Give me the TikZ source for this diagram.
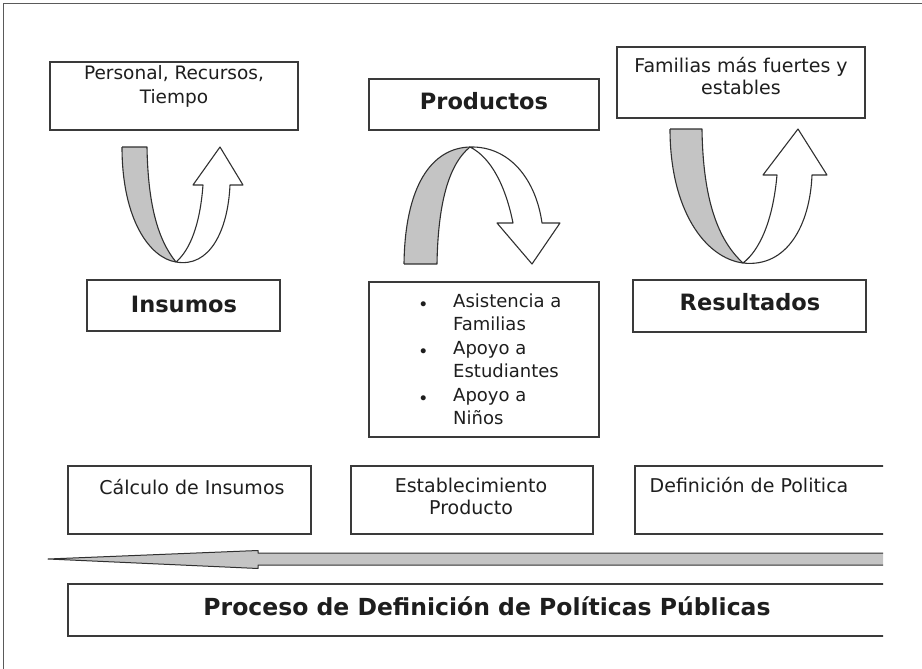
\documentclass[tikz,border=0pt]{standalone}
\usepackage{fontspec}
\setmainfont{DejaVu Sans}
\definecolor{boxc}{HTML}{3A3A3A}
\definecolor{arrc}{HTML}{303030}
\definecolor{grayf}{HTML}{C4C4C4}
\definecolor{framec}{HTML}{5A5A5A}
\definecolor{txtc}{HTML}{1E1E1E}
\tikzset{
  box/.style={draw=boxc, line width=1.3pt, inner sep=0pt, fill=white},
  txt/.style={inner sep=0pt, text=txtc},
  arrline/.style={draw=arrc, line width=1.1pt, line join=round},
  arrfill/.style={fill=grayf},
}
\begin{document}
\begin{tikzpicture}[x=1pt,y=-1pt]
\useasboundingbox (0,0) rectangle (922,669);
\draw[framec, line width=1pt] (3,669) -- (3,4) -- (922,4);

% ---- top boxes
\node[box, minimum width=248pt, minimum height=68pt] (pers) at (174,96) {};
\node[txt, font=\fontsize{18.5}{24}\selectfont, align=center] (perst) at (174,86.1) {Personal, Recursos,\\Tiempo};

\node[box, minimum width=230pt, minimum height=51pt] (prod) at (484,104.5) {};
\node[txt, font=\fontsize{22.5}{27}\selectfont\bfseries, anchor=base] (prodt) at (484,110) {Productos};

\node[box, minimum width=248pt, minimum height=71pt] (fam) at (741,82.5) {};
\node[txt, font=\fontsize{19}{22}\selectfont, align=center] (famt) at (741,76.4) {Familias más fuertes y\\estables};

% ---- middle boxes
\node[box, minimum width=193pt, minimum height=51pt] (ins) at (183.5,305.5) {};
\node[txt, font=\fontsize{22.5}{27}\selectfont\bfseries, anchor=base] (inst) at (184,312) {Insumos};

\node[box, minimum width=230pt, minimum height=155pt] (list) at (484,359.5) {};
\node[txt, anchor=west, font=\fontsize{18}{23.5}\selectfont] (listt) at (419,361.3) {%
\begin{tabular}{@{}l@{}l@{}}
\makebox[34pt][l]{\hspace{1pt}\scalebox{0.75}{$\bullet$}} & Asistencia a\\
 & Familias\\
\makebox[34pt][l]{\hspace{1pt}\scalebox{0.75}{$\bullet$}} & Apoyo a\\
 & Estudiantes\\
\makebox[34pt][l]{\hspace{1pt}\scalebox{0.75}{$\bullet$}} & Apoyo a\\
 & Niños
\end{tabular}};

\node[box, minimum width=233pt, minimum height=52pt] (res) at (749.5,306) {};
\node[txt, font=\fontsize{22.5}{27}\selectfont\bfseries, anchor=base] (rest) at (750,310) {Resultados};

% ---- bottom boxes
\node[box, minimum width=243pt, minimum height=68pt] (calc) at (189.5,500) {};
\node[txt, font=\fontsize{19}{22}\selectfont, anchor=base] (calct) at (192,494) {Cálculo de Insumos};

\node[box, minimum width=242pt, minimum height=68pt] (est) at (472,500) {};
\node[txt, font=\fontsize{19}{22}\selectfont, align=center] (estt) at (471,496.8) {Establecimiento\\Producto};

\begin{scope}
\clip (0,0) rectangle (883,669);
\node[box, minimum width=270pt, minimum height=68pt] (def) at (770,500) {};
\node[box, minimum width=838pt, minimum height=52pt] (bar) at (487,610) {};
\filldraw[fill=grayf, draw=arrc, line width=1pt, line join=round]
  (48,559) -- (258,550.5) -- (258,553) -- (900,553) -- (900,565) -- (258,565) -- (258,568.5) -- cycle;
\end{scope}
\node[txt, font=\fontsize{19}{22}\selectfont, anchor=base] (deft) at (749,492) {Definición de Politica};
\node[txt, font=\fontsize{23.5}{28}\selectfont\bfseries, anchor=base] (bart) at (487,615) {Proceso de Definición de Políticas Públicas};

% ---- U arrow 1 (Insumos)
\fill[arrfill] (122,147) -- (147,147) .. controls (148,205) and (158,240) .. (176,262)
  .. controls (150,258) and (122,220) .. (122,147) -- cycle;
\draw[arrline] (122,147) -- (147,147) .. controls (148,205) and (158,240) .. (176,262);
\draw[arrline] (122,147) .. controls (122,220) and (150,258) .. (176,262)
  .. controls (210,268) and (228,230) .. (230,185) -- (243,185) -- (220,147) -- (193,185) -- (203,185)
  .. controls (200,225) and (190,250) .. (176,262);

% ---- arch arrow 2 (Productos)
\fill[arrfill] (404,264) -- (437,264) .. controls (438,205) and (448,165) .. (470,147)
  .. controls (432,148) and (405,185) .. (404,264) -- cycle;
\draw[arrline] (404,264) -- (437,264) .. controls (438,205) and (448,165) .. (470,147);
\draw[arrline] (404,264) .. controls (405,185) and (432,148) .. (470,147)
  .. controls (510,146) and (536,180) .. (542,223) -- (560,223) -- (532,264) -- (497,223) -- (513,223)
  .. controls (506,188) and (492,158) .. (470,147);

% ---- U arrow 3 (Resultados)
\fill[arrfill] (670,129) -- (702,129) .. controls (703,200) and (718,240) .. (743,263)
  .. controls (705,258) and (670,210) .. (670,129) -- cycle;
\draw[arrline] (670,129) -- (702,129) .. controls (703,200) and (718,240) .. (743,263);
\draw[arrline] (670,129) .. controls (670,210) and (705,258) .. (743,263)
  .. controls (787,268) and (810,225) .. (812,175) -- (827,175) -- (798,129) -- (763,175) -- (777,175)
  .. controls (773,220) and (760,250) .. (743,263);
\end{tikzpicture}
\end{document}
